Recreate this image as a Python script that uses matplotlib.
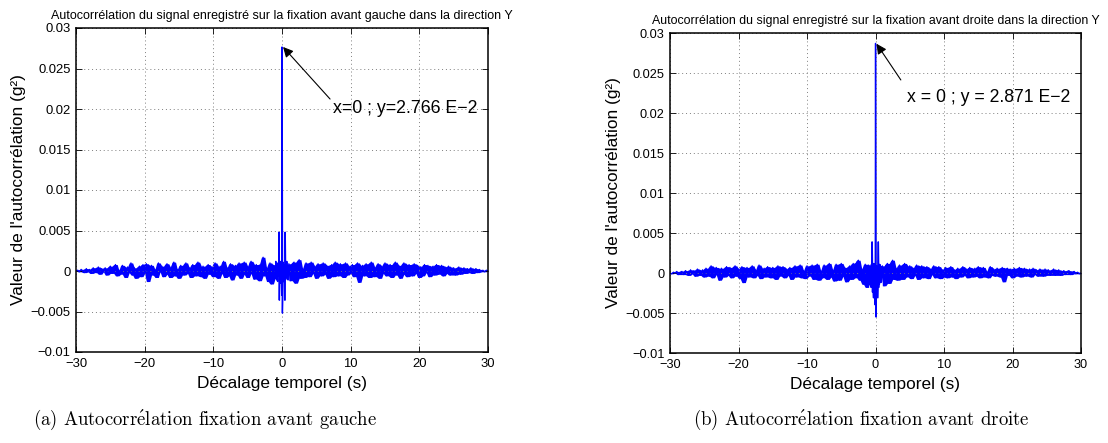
import numpy as np
import matplotlib
matplotlib.use("Agg")
import matplotlib.pyplot as plt
from numpy.lib.stride_tricks import sliding_window_view

# ---------------- data (values in units of 1e-4 g^2) ----------------
STEP = 0.25
SCALE = 1e-4

# chart (a) : fixation avant gauche   (lags -30 .. -1.25 / -1 .. 1 / 1.25 .. 30)
a_neg = [0, 1, -1, 2, 0, -2, 3, -1,
         2, -3, 4, 1, -2, 5, -4, 3, -1, 4, -5, 2,
         6, -3, 2, 8, -6, 1, -4, 7, 3, -8, 5, -2, 10, -5, 4, -9, 2, 6, -7, 8,
         -3, 9, -13, 4, 7, -5, 2, -8, 10, -1, 6, -7, 3, 9, -4, -8, 5, 11, -6, 2,
         -9, 7, 1, -5, 10, -3, 4, -8, 8, -2, -6, 11, 3, -7, 6, -9, 2, 8, -4, 5,
         -7, 10, 2, -9, 6, -3, 12, -8, 4, -6, 9, -11, 3, 7, -5, 10, -9, 2, 11, -4,
         -8, 6, 12, -3, -10, 8, 1, -12,
         9, 17, -6, 4, -13, 10, -16, 7]
a_pos = [-12, 8, 11, -15, 5, 14, -9, 3,
         -8, 10, 4, -7, 11, -3, 6, -9, 9, 1, -6, 10, -4, 7, -9, 3, 8, -7, 11, -2,
         -6, 9, 2, -8, 10, -5, 6, -3,
         8, -7, 4, 10, -14, 3, 7, -6, 9, -2, -8, 11, 5, -7, 2, 9, -9, 6, -3, 10,
         -6, 4, 8, -8, 1, 11, -5, 7, -9, 3, 10, -4, -7, 8, 2, -6, 9, -3, 7, -8,
         5, -6, 8, -2, 7, -7, 3, 6, -5, 8, -4, 2, 7, -6, 5, -3, 6, -5, 3, 4,
         -5, 2, 5, -4, 1, 4, -3, 3, -2, 4, -3, 1, 3, -2, 2, -1, 1, -1, 1, 0]
a_center = [6, -9, 12, -4, -11, 8, 3, -13, 10, -6, 5, 48, -36, 4, -12, 9, -15, 12, -8, -30,
            276.6,
            -52, -14, 11, -6, -13, 8, 2, -36, 48, 4, -10, 9, -3, 12, -8, 5, -11, 7, -4, 9]

# chart (b) : fixation avant droite
b_neg = [0, -1, 1, 0, 2, -2, 1, 2,
         -2, 3, 1, -3, 4, -1, 3, -4, 5, 2, -3, 4,
         -5, 6, 2, -4, 9, -6, 3, 7, -2, -9, 6, 1, -5, 8, -3, 7, -6, 2, 9, -4,
         5, -7, 8, -12, 3, 7, -5, 2, 9, -6, 4, -3, 10, -7, 1, 6, -5, 8, -2, -6,
         7, 3, -8, 9, -4, 2, 8, -6, 5, -3, 7, -8, 1, 9, -5, 4, 10, -6, 3, -7,
         9, -4, 2, 10, -8, 5, 11, -9, 3, -6, 10, 1, -8, 12, -5, 4, -10, 11, 2, -9,
         12, -4, 7, -11, 3, 9, -8, 12,
         -6, 13, 16, -9, 5, -14, 11, -18]
b_pos = [-16, 9, 12, -13, 4, 16, -8, 6,
         -9, 10, 3, -8, 12, -5, 2, 9, -7, 6, -3, 10, -8, 4, 9, -6, 1, 8, -7, 5,
         -2, 9, -6, 3, 8, -7, 4, -5,
         7, -6, 2, 8, -5, 4, -7, 6, 1, -5, 8, -3, 5, -6, 7, 2, -5, 6, -4, 8,
         -6, 3, 7, -5, 2, -6, 8, -3, 5, -4, 6, 1, -5, 7, -11, 4, 6, -3, 5, -6,
         6, -4, 2, 7, -5, 3, 6, -4, 1, 5, -5, 6, -2, 4, -4, 5, 2, -4, 5, -3,
         4, -3, 1, 5, -3, 2, 4, -3, 1, 3, -2, 2, 3, -2, 1, 2, -1, 1, -1, 0]
b_center = [10, -12, 6, -14, 9, -16, 4, -18, 11, 7, 39, -24, 5, -20, -31, 12, -22, 8, -26, -40,
            287.1,
            -55, -28, 9, -17, 6, -31, 10, 39, -18, 5, -14, 11, -7, 10, -12, 4, -11, 8, -5, 9]

titles = ["Autocorrélation du signal enregistré sur la fixation avant gauche dans la direction Y",
          "Autocorrélation du signal enregistré sur la fixation avant droite dans la direction Y"]
annot_texts = ["x=0 ; y=2.766 E\u22122", "x = 0 ; y = 2.871 E\u22122"]
captions = ["(a) Autocorr$\\acute{\\mathrm{e}}$lation fixation avant gauche",
            "(b) Autocorr$\\acute{\\mathrm{e}}$lation fixation avant droite"]
xlabel = "Décalage temporel (s)"
ylabel = "Valeur de l'autocorrélation (g²)"
xticks = [-30, -20, -10, 0, 10, 20, 30]
xticklabels = ["\u221230", "\u221220", "\u221210", "0", "10", "20", "30"]
yticks = [-0.01, -0.005, 0, 0.005, 0.01, 0.015, 0.02, 0.025, 0.03]
yticklabels = ["\u22120.01", "\u22120.005", "0", "0.005", "0.01", "0.015", "0.02", "0.025", "0.03"]


def build(neg, center, pos):
    neg_lags = -30 + STEP * np.arange(len(neg))
    pos_lags = 1.25 + STEP * np.arange(len(pos))
    c_lags = -1.0 + 0.05 * np.arange(len(center))
    lags = np.concatenate([neg_lags, c_lags, pos_lags])
    vals = np.concatenate([neg, center, pos]) * SCALE
    return lags, vals


def band(vals):
    # range covered by the dense trace between neighbouring samples
    padded = np.concatenate([[vals[0]], vals, [vals[-1]]])
    win = sliding_window_view(padded, 3)
    return win.min(axis=1), win.max(axis=1)


plt.rcParams['font.family'] = ['Liberation Sans', 'DejaVu Sans']
plt.rcParams['mathtext.fontset'] = 'cm'

BLUE = '#0000ff'
fig = plt.figure(figsize=(11.08, 4.43), dpi=100)
axes_pos = [[76 / 1108, 1 - 352 / 443, 412 / 1108, 324 / 443],
            [670 / 1108, 1 - 353 / 443, 411 / 1108, 320 / 443]]
series = [(a_neg, a_center, a_pos), (b_neg, b_center, b_pos)]
tick_fs = [9.4, 9.2]
title_fs = [9.0, 8.9]
label_fs = [12.4, 12.4]
annot_fs = [12.8, 12.7]
annot_xy = [((0.15, 0.02766), (7.0, 0.02123), (7.4, 0.0201)),
            ((0.15, 0.02866), (3.7, 0.02413), (4.55, 0.0220))]

for k in range(2):
    ax = fig.add_axes(axes_pos[k])
    lags, vals = build(*series[k])
    lo, hi = band(vals)
    ax.fill_between(lags, lo, hi, color=BLUE, linewidth=0)
    ax.plot(lags, vals, color=BLUE, linewidth=0.9)
    ax.set_xlim(-30, 30)
    ax.set_ylim(-0.01, 0.03)
    ax.set_xticks(xticks)
    ax.set_xticklabels(xticklabels, fontsize=tick_fs[k])
    ax.set_yticks(yticks)
    ax.set_yticklabels(yticklabels, fontsize=tick_fs[k])
    ax.tick_params(direction='in', top=True, right=True, length=4, width=0.6, pad=4)
    ax.grid(True, color='#7f7f7f', linestyle=(0, (1, 3)), linewidth=0.7)
    for s in ax.spines.values():
        s.set_linewidth(1.1)
    ax.set_title(titles[k], fontsize=title_fs[k], pad=6.5)
    ax.set_xlabel(xlabel, fontsize=label_fs[k], labelpad=4.5)
    ax.set_ylabel(ylabel, fontsize=label_fs[k], labelpad=3)
    tip, tail, txt = annot_xy[k]
    ax.annotate('', xy=tip, xytext=tail,
                arrowprops=dict(arrowstyle='-|>', color='black', lw=0.8,
                                mutation_scale=15, shrinkA=0, shrinkB=0))
    ax.text(txt[0], txt[1], annot_texts[k], fontsize=annot_fs[k], va='center', ha='left')

for k, cx in enumerate([205, 861]):
    fig.text(cx / 1108, 1 - 420 / 443, captions[k], fontsize=13.5,
             family=['cmr10', 'DejaVu Serif'], ha='center', va='center')

fig.savefig('out.png', dpi=100)
